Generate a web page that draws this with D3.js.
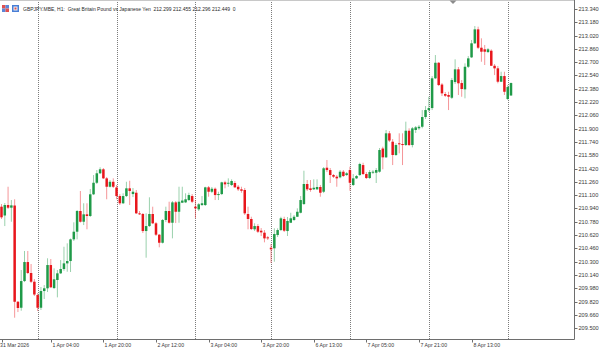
<!DOCTYPE html>
<html>
<head>
<meta charset="utf-8">
<script src="https://cdn.jsdelivr.net/npm/d3@7"></script>
<style>
  html, body { margin: 0; padding: 0; background: #fff; }
  svg { display: block; }
  text { font-family: "Liberation Sans", Arial, sans-serif; white-space: pre; }
</style>
</head>
<body>
<svg id="chart" width="600" height="349"></svg>
<script>
// GBPJPY H1, 31 Mar 13:00 .. 9 Apr 01:00 (bar index 0..155)
const title = "GBPJPY.MBE, H1:  Great Britain Pound vs Japanese Yen  212.299 212.455 212.296 212.449  0";

const opens = [
  210.961,210.855,210.981,210.949,210.975,209.817,209.745,210.066,210.295,210.163,
  210.058,209.898,209.745,209.946,209.979,210.259,209.982,210.079,210.159,210.211,
  210.279,210.307,210.568,210.660,210.909,210.780,210.869,210.849,211.110,211.249,
  211.363,211.411,211.302,211.201,211.261,211.192,211.089,211.002,211.089,211.182,
  211.113,211.129,210.881,210.873,210.668,210.728,210.873,210.761,210.624,210.527,
  210.801,210.909,210.768,211.013,210.900,211.009,211.013,211.041,211.089,210.961,
  210.929,210.981,210.981,211.194,211.141,211.177,211.101,211.113,211.254,211.242,
  211.222,211.246,211.201,211.170,211.162,210.873,210.813,210.689,210.728,210.672,
  210.648,210.592,210.467,210.460,210.620,210.680,210.813,210.668,210.768,210.801,
  210.840,210.888,210.993,211.234,211.182,211.170,211.170,211.198,211.141,211.430,
  211.402,211.342,211.322,211.314,211.382,211.342,211.402,211.222,211.302,211.342,
  211.462,211.354,211.306,211.370,211.370,211.382,211.661,211.555,211.844,211.743,
  211.583,211.724,211.715,211.703,211.875,211.703,211.884,211.904,211.923,212.040,
  212.124,212.148,212.506,212.693,212.431,212.317,212.305,212.272,212.461,212.614,
  212.449,212.373,212.645,212.758,212.927,213.095,212.874,212.855,212.822,212.838,
  212.657,212.626,212.465,212.533,212.257,212.299
];
const highs = [
  210.993,211.005,211.201,211.041,211.050,209.826,210.199,210.428,210.428,210.271,
  210.091,209.922,209.994,210.018,210.340,210.331,210.219,210.199,210.319,210.479,
  210.520,210.578,210.773,210.921,211.150,211.002,211.002,211.174,211.342,211.402,
  211.435,211.426,211.318,211.282,211.302,211.222,211.113,211.122,211.261,211.273,
  211.186,211.162,210.909,210.885,210.881,211.074,210.961,210.776,210.632,210.813,
  210.961,211.021,211.029,211.029,211.201,211.201,211.122,211.129,211.113,211.041,
  211.005,211.089,211.201,211.210,211.198,211.192,211.141,211.261,211.273,211.302,
  211.290,211.270,211.222,211.201,211.186,210.961,210.840,210.761,210.752,210.704,
  210.680,210.608,210.512,210.701,210.701,210.840,210.840,210.837,210.888,210.861,
  210.941,211.089,211.394,211.282,211.282,211.290,211.290,211.222,211.438,211.523,
  211.426,211.354,211.342,211.402,211.402,211.378,211.442,211.354,211.342,211.490,
  211.490,211.378,211.402,211.402,211.426,211.667,211.683,211.884,211.872,211.775,
  211.724,211.844,211.844,211.984,211.904,211.920,211.932,211.944,212.124,212.172,
  212.284,212.533,212.786,212.702,212.449,212.341,212.344,212.509,212.734,212.642,
  212.485,212.686,212.774,212.967,213.135,213.127,212.987,212.907,212.870,212.855,
  212.678,212.654,212.585,212.585,212.425,212.455
];
const lows = [
  210.813,210.728,210.933,210.780,209.625,209.693,209.709,210.054,210.151,210.042,
  209.886,209.705,209.718,209.850,209.934,209.982,209.970,209.870,210.151,210.190,
  210.178,210.175,210.548,210.568,210.770,210.740,210.689,210.837,211.101,211.234,
  211.354,211.294,211.050,211.192,211.186,211.050,210.981,210.993,211.077,210.981,
  211.077,210.873,210.861,210.644,210.347,210.716,210.752,210.608,210.472,210.518,
  210.776,210.758,210.580,210.764,210.768,211.005,211.005,211.029,211.005,210.821,
  210.909,210.969,210.969,211.081,211.125,211.041,211.041,211.101,211.182,211.201,
  211.210,211.186,211.150,211.129,210.861,210.689,210.680,210.668,210.644,210.608,
  210.532,210.560,210.283,210.299,210.596,210.668,210.656,210.608,210.764,210.789,
  210.837,210.881,210.981,211.150,211.141,211.162,211.162,211.081,211.125,211.378,
  211.246,211.306,211.201,211.302,211.318,211.330,211.153,211.210,211.294,211.330,
  211.342,211.294,211.294,211.354,211.246,211.370,211.411,211.547,211.739,211.462,
  211.571,211.603,211.462,211.691,211.691,211.675,211.848,211.884,211.904,212.016,
  212.100,212.124,212.497,212.413,212.293,212.281,212.124,212.257,212.437,212.305,
  212.284,212.265,212.630,212.750,212.919,212.858,212.705,212.666,212.810,212.654,
  212.545,212.446,212.461,212.305,212.245,212.296
];
const closes = [
  210.833,210.981,210.949,210.977,209.817,209.742,210.066,210.295,210.163,210.058,
  209.904,209.745,209.946,209.979,210.259,209.991,210.087,210.159,210.211,210.279,
  210.307,210.568,210.660,210.909,210.780,210.869,210.849,211.110,211.249,211.363,
  211.411,211.302,211.201,211.261,211.201,211.089,211.002,211.089,211.182,211.150,
  211.141,210.881,210.873,210.668,210.728,210.873,210.761,210.624,210.527,210.801,
  210.909,210.768,211.013,210.900,211.021,211.035,211.050,211.101,211.021,210.941,
  210.990,211.002,211.194,211.141,211.177,211.101,211.113,211.254,211.230,211.249,
  211.270,211.194,211.170,211.153,210.881,210.813,210.692,210.728,210.660,210.652,
  210.580,210.580,210.448,210.632,210.680,210.821,210.672,210.789,210.821,210.840,
  210.900,211.041,211.234,211.170,211.162,211.189,211.198,211.129,211.423,211.402,
  211.342,211.322,211.302,211.382,211.330,211.363,211.249,211.302,211.330,211.475,
  211.354,211.306,211.378,211.382,211.402,211.643,211.555,211.844,211.757,211.583,
  211.703,211.712,211.703,211.875,211.703,211.904,211.916,211.923,212.040,212.124,
  212.148,212.506,212.693,212.425,212.325,212.296,212.284,212.485,212.614,212.446,
  212.377,212.645,212.746,212.927,213.095,212.874,212.826,212.826,212.855,212.657,
  212.626,212.465,212.533,212.344,212.401,212.449
];

// bar index of the first H1 bar of each day (period separators)
const dayStarts = [11, 35, 59, 82, 106, 130, 154];
// time axis labels and the bar they belong to
const timeTickBars = [0, 15, 31, 47, 63, 79, 95, 111, 127, 143];
const timeLabels = ["31 Mar 2026", "1 Apr 04:00", "1 Apr 20:00", "2 Apr 12:00", "3 Apr 04:00",
  "3 Apr 20:00", "6 Apr 13:00", "7 Apr 05:00", "7 Apr 21:00", "8 Apr 13:00"];
const priceTicks = [209.500, 209.660, 209.820, 209.980, 210.140, 210.300, 210.460, 210.620,
  210.780, 210.940, 211.100, 211.260, 211.420, 211.580, 211.740, 211.900, 212.060, 212.220,
  212.380, 212.540, 212.700, 212.860, 213.020, 213.180, 213.340];

const axisX = 574.5, axisY = 339.5;
const upColor = "#1f9a48", downColor = "#e8161c";

const bars = opens.map((o, i) => ({ i, o, h: highs[i], l: lows[i], c: closes[i] }));

const svg = d3.select("#chart");

const x = d3.scaleLinear().domain([0, bars.length - 1]).range([1.5, 511]);
const y = d3.scaleLinear().domain([209.5, 213.34]).range([328.1, 9]);

// period separators
svg.append("g")
  .selectAll("line")
  .data(dayStarts)
  .join("line")
  .attr("x1", d => Math.round(x(d)) + 0.5)
  .attr("x2", d => Math.round(x(d)) + 0.5)
  .attr("y1", 0)
  .attr("y2", axisY)
  .attr("stroke", "#7c7c7c")
  .attr("stroke-width", 1)
  .attr("stroke-dasharray", "1,1");

// candles
const candle = svg.append("g")
  .selectAll("g")
  .data(bars)
  .join("g");

candle.append("line")
  .attr("x1", d => x(d.i))
  .attr("x2", d => x(d.i))
  .attr("y1", d => y(d.h))
  .attr("y2", d => y(d.l))
  .attr("stroke", d => d.c >= d.o ? upColor : downColor)
  .attr("stroke-opacity", 0.45)
  .attr("stroke-width", 1);

candle.append("rect")
  .attr("x", d => x(d.i) - 1.25)
  .attr("width", 2.5)
  .attr("y", d => y(Math.max(d.o, d.c)))
  .attr("height", d => Math.max(1, Math.abs(y(d.o) - y(d.c))))
  .attr("fill", d => d.c >= d.o ? upColor : downColor);

// frame
svg.append("line")
  .attr("x1", 0).attr("x2", axisX).attr("y1", 0.5).attr("y2", 0.5)
  .attr("stroke", "#c8c8c8");
svg.append("line")
  .attr("x1", axisX).attr("x2", axisX).attr("y1", 0).attr("y2", axisY)
  .attr("stroke", "#6e6e6e");
svg.append("line")
  .attr("x1", 0).attr("x2", axisX).attr("y1", axisY).attr("y2", axisY)
  .attr("stroke", "#6e6e6e");

// price axis
const yAxis = svg.append("g")
  .selectAll("g")
  .data(priceTicks)
  .join("g")
  .attr("transform", d => `translate(${axisX},${Math.round(y(d)) + 0.5})`);
yAxis.append("line").attr("x1", 0).attr("x2", 3).attr("stroke", "#6e6e6e");
yAxis.append("text")
  .attr("x", 4)
  .attr("dy", "0.35em")
  .attr("font-size", 5.6)
  .attr("fill", "#3a3a3a")
  .text(d => d3.format(".3f")(d));

// time axis
const xAxis = svg.append("g")
  .selectAll("g")
  .data(timeTickBars)
  .join("g")
  .attr("transform", d => `translate(${Math.round(x(d)) + 0.5},${axisY})`);
xAxis.append("line").attr("y1", 0).attr("y2", 3).attr("stroke", "#6e6e6e");
xAxis.append("text")
  .attr("x", (d, k) => k === 0 ? -Math.round(x(d)) - 0.5 : 1)
  .attr("y", 7.5)
  .attr("font-size", 5.2)
  .attr("fill", "#3a3a3a")
  .text((d, k) => timeLabels[k]);

// chart shift marker
svg.append("path")
  .attr("d", "M449.5,0.5 L456.5,0.5 L453,4 Z")
  .attr("fill", "#8c8c8c");

// header: icons + symbol text
const icons = svg.append("g").attr("transform", "translate(2,5)");
icons.append("rect").attr("width", 3.5).attr("height", 3.5).attr("fill", "#e05050");
icons.append("rect").attr("x", 3.5).attr("width", 3.5).attr("height", 3.5).attr("fill", "#5a86d8");
icons.append("rect").attr("y", 3.5).attr("width", 3.5).attr("height", 3.5).attr("fill", "#5a86d8");
icons.append("rect").attr("x", 3.5).attr("y", 3.5).attr("width", 3.5).attr("height", 3.5).attr("fill", "#e05050");
icons.append("rect").attr("x", 10).attr("width", 7).attr("height", 7).attr("fill", "#4a7fd6");
icons.append("rect").attr("x", 11.5).attr("y", 1.5).attr("width", 4).attr("height", 4).attr("fill", "#f2f2f2");
icons.append("rect").attr("x", 12.5).attr("y", 2.5).attr("width", 2).attr("height", 2).attr("fill", "#e05050");

svg.append("text")
  .attr("x", 23)
  .attr("y", 10.5)
  .attr("font-size", 5.0)
  .attr("fill", "#2a2a2a")
  .text(title);
</script>
</body>
</html>
